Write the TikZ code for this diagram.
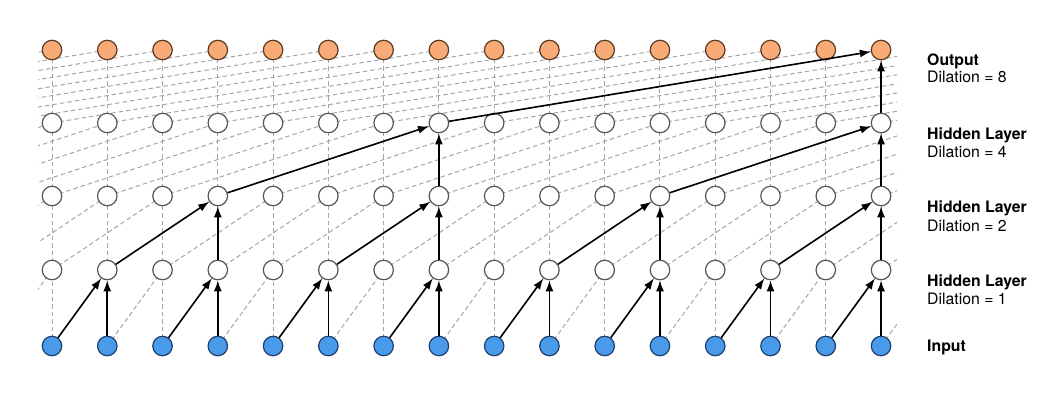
\documentclass[tikz,border=0pt]{standalone}
\usepackage{fontspec}
\setmainfont{TeX Gyre Heros}
\usetikzlibrary{arrows.meta}
\definecolor{outfill}{HTML}{F8AB76}
\definecolor{outdraw}{HTML}{5C3A22}
\definecolor{infill}{HTML}{4A9AEA}
\definecolor{indraw}{HTML}{1E3F6E}
\definecolor{hiddraw}{HTML}{555555}
\definecolor{dashgrey}{HTML}{A5A5A5}
\begin{document}
\begin{tikzpicture}[x=1pt,y=-1pt,
  unit/.style={circle, minimum size=19.5pt, inner sep=0pt, line width=1.2pt},
  outunit/.style={unit, fill=outfill, draw=outdraw},
  hidunit/.style={unit, fill=white, draw=hiddraw},
  inunit/.style={unit, fill=infill, draw=indraw},
  faint/.style={draw=dashgrey, line width=1pt, dash pattern=on 4.5pt off 3pt},
  active/.style={draw=black, line width=1.6pt, -{Latex[length=11pt,width=8pt]}},
  lbl/.style={anchor=base west, inner sep=0pt, font=\fontsize{15.8}{18}\selectfont},
  lblb/.style={anchor=base west, inner sep=0pt, font=\fontsize{15.8}{18}\selectfont\bfseries}]
\useasboundingbox (0,0) rectangle (1064,402);
\def\yO{50}\def\yD{123}\def\yC{196}\def\yB{270}\def\yA{346}
\foreach \j in {-8,...,23} {
  \coordinate (cA\j) at ({52+55.27*\j},\yA);
  \coordinate (cB\j) at ({52+55.27*\j},\yB);
  \coordinate (cC\j) at ({52+55.27*\j},\yC);
  \coordinate (cD\j) at ({52+55.27*\j},\yD);
  \coordinate (cO\j) at ({52+55.27*\j},\yO);
}
% faint connections
\begin{scope}
  \clip (38,0) rectangle (897,402);
  \foreach \j in {0,...,15} {
    \draw[faint] (cA\j) -- (cB\j);
    \draw[faint] (cB\j) -- (cC\j);
    \draw[faint] (cC\j) -- (cD\j);
    \draw[faint] (cD\j) -- (cO\j);
  }
  \foreach \i in {-1,...,15} {\pgfmathtruncatemacro\k{\i+1}\draw[faint] (cA\i) -- (cB\k);}
  \foreach \i in {-2,...,15} {\pgfmathtruncatemacro\k{\i+2}\draw[faint] (cB\i) -- (cC\k);}
  \foreach \i in {-4,...,15} {\pgfmathtruncatemacro\k{\i+4}\draw[faint] (cC\i) -- (cD\k);}
  \foreach \i in {-8,...,15} {\pgfmathtruncatemacro\k{\i+8}\draw[faint] (cD\i) -- (cO\k);}
\end{scope}
% units
\foreach \j in {0,...,15} {
  \node[inunit] (in\j) at (cA\j) {};
  \node[hidunit] (hA\j) at (cB\j) {};
  \node[hidunit] (hB\j) at (cC\j) {};
  \node[hidunit] (hC\j) at (cD\j) {};
  \node[outunit] (out\j) at (cO\j) {};
}
% active connections
\foreach \k in {1,3,...,15} {
  \pgfmathtruncatemacro\p{\k-1}
  \draw[active] (in\p) -- (hA\k);
  \draw[active] (in\k) -- (hA\k);
}
\foreach \k in {3,7,11,15} {
  \pgfmathtruncatemacro\p{\k-2}
  \draw[active] (hA\p) -- (hB\k);
  \draw[active] (hA\k) -- (hB\k);
}
\foreach \k in {7,15} {
  \pgfmathtruncatemacro\p{\k-4}
  \draw[active] (hB\p) -- (hC\k);
  \draw[active] (hB\k) -- (hC\k);
}
\draw[active] (hC7) -- (out15);
\draw[active] (hC15) -- (out15);
% labels
\node[lblb] (lo1) at (927,65.7) {Output};
\node[lbl]  (lo2) at (927,82) {Dilation = 8};
\node[lblb] (ld1) at (927,139.5) {Hidden Layer};
\node[lbl]  (ld2) at (927,157) {Dilation = 4};
\node[lblb] (lc1) at (927,212.5) {Hidden Layer};
\node[lbl]  (lc2) at (927,231) {Dilation = 2};
\node[lblb] (lb1) at (927,286) {Hidden Layer};
\node[lbl]  (lb2) at (927,304.5) {Dilation = 1};
\node[lblb] (la1) at (927,351.5) {Input};
\end{tikzpicture}
\end{document}
